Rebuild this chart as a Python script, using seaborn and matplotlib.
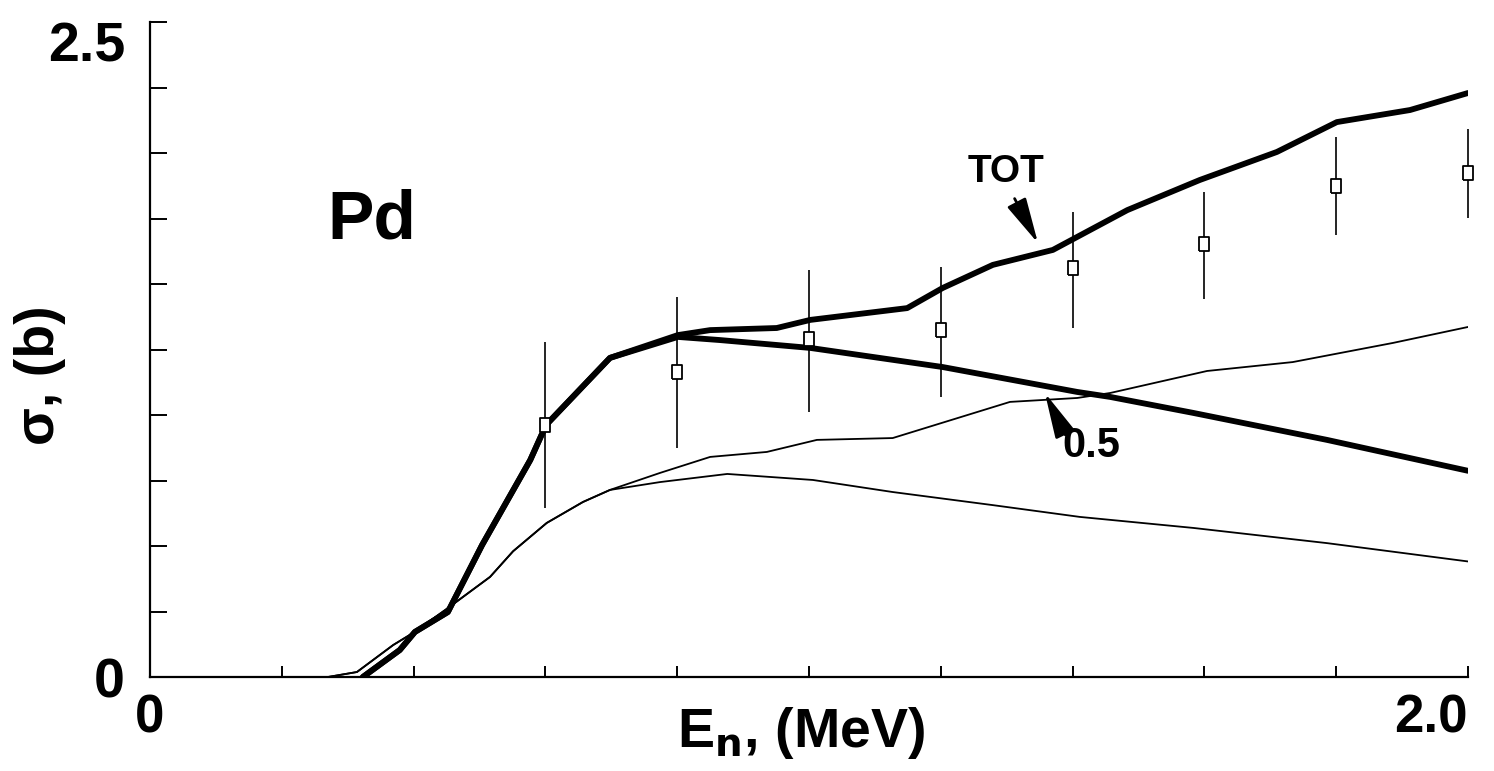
import numpy as np
import pandas as pd
import matplotlib
matplotlib.use("Agg")
import matplotlib.pyplot as plt
import seaborn as sns

# ---- data ----
tot_e = [0.323, 0.379, 0.402, 0.452, 0.504, 0.577, 0.601, 0.698, 0.801, 0.850, 0.951,
         1.002, 1.149, 1.203, 1.279, 1.370, 1.483, 1.593, 1.710, 1.801, 1.912, 2.0]
tot_s = [0.0, 0.103, 0.172, 0.248, 0.504, 0.828, 0.962, 1.218, 1.305, 1.324, 1.332,
         1.363, 1.408, 1.485, 1.573, 1.630, 1.782, 1.897, 2.004, 2.118, 2.164, 2.229]

half_e = [0.323, 0.379, 0.402, 0.452, 0.504, 0.577, 0.601, 0.698, 0.801, 0.865, 1.002,
          1.203, 1.407, 1.457, 1.583, 1.786, 2.0]
half_s = [0.0, 0.103, 0.172, 0.248, 0.504, 0.828, 0.962, 1.218, 1.298, 1.286, 1.256,
          1.183, 1.088, 1.069, 1.008, 0.905, 0.787]

thin_up_e = [0.27, 0.314, 0.369, 0.399, 0.452, 0.516, 0.551, 0.602, 0.657, 0.698, 0.774,
             0.850, 0.936, 1.012, 1.127, 1.305, 1.407, 1.457, 1.604, 1.734, 1.886, 2.0]
thin_up_s = [0.0, 0.019, 0.122, 0.168, 0.263, 0.382, 0.480, 0.588, 0.668, 0.714, 0.779,
             0.840, 0.859, 0.905, 0.912, 1.050, 1.065, 1.084, 1.168, 1.202, 1.275, 1.336]

thin_lo_e = [0.27, 0.314, 0.369, 0.399, 0.452, 0.516, 0.551, 0.602, 0.657, 0.698, 0.774,
             0.876, 1.006, 1.127, 1.279, 1.411, 1.583, 1.786, 2.0]
thin_lo_s = [0.0, 0.019, 0.122, 0.168, 0.263, 0.382, 0.480, 0.588, 0.668, 0.714, 0.744,
             0.775, 0.752, 0.706, 0.656, 0.611, 0.569, 0.511, 0.441]

exp_e = [0.6, 0.8, 1.0, 1.2, 1.4, 1.6, 1.8, 2.0]
exp_s = [0.962, 1.164, 1.290, 1.324, 1.561, 1.653, 1.874, 1.924]
exp_lo = [0.645, 0.874, 1.011, 1.069, 1.332, 1.443, 1.687, 1.752]
exp_hi = [1.279, 1.450, 1.553, 1.565, 1.775, 1.851, 2.061, 2.092]

x_ticks = [0.0, 0.2, 0.4, 0.6, 0.8, 1.0, 1.2, 1.4, 1.6, 1.8, 2.0]
x_labels = ["0", "", "", "", "", "", "", "", "", "", "2.0"]
y_ticks = [0.0, 0.25, 0.5, 0.75, 1.0, 1.25, 1.5, 1.75, 2.0, 2.25, 2.5]
y_labels = ["0", "", "", "", "", "", "", "", "", "", "2.5"]

# ---- style ----
sns.set_theme(style="ticks")
plt.rcParams["font.family"] = ["Liberation Sans", "DejaVu Sans"]
plt.rcParams["font.weight"] = "bold"
plt.rcParams["mathtext.default"] = "bf"
for k in ["text.color", "axes.labelcolor", "xtick.color", "ytick.color", "axes.edgecolor"]:
    plt.rcParams[k] = "black"

W, H = 1494, 771
fig = plt.figure(figsize=(W / 100, H / 100), dpi=100)
fig.patch.set_facecolor("white")
ax = fig.add_axes([150 / W, 1 - 677 / H, (1468 - 150) / W, (677 - 22) / H])
ax.set_facecolor("white")

thick = 4.2
thin = 1.3
sns.lineplot(x=thin_lo_e, y=thin_lo_s, ax=ax, color="black", lw=thin, sort=False, estimator=None)
sns.lineplot(x=thin_up_e, y=thin_up_s, ax=ax, color="black", lw=thin, sort=False, estimator=None)
sns.lineplot(x=half_e, y=half_s, ax=ax, color="black", lw=thick, sort=False, estimator=None)
sns.lineplot(x=tot_e, y=tot_s, ax=ax, color="black", lw=thick, sort=False, estimator=None)

ax.vlines(exp_e, exp_lo, exp_hi, color="black", lw=1.2, clip_on=False, zorder=4)
rect = [(-0.7, -1), (0.7, -1), (0.7, 1), (-0.7, 1), (-0.7, -1)]
sns.scatterplot(x=exp_e, y=exp_s, ax=ax, marker=rect, s=110, facecolor="white",
                edgecolor="black", linewidth=1.3, zorder=5, clip_on=False)

ax.set_xlim(0, 2.0)
ax.set_ylim(0, 2.5)
ax.set_xticks(x_ticks)
ax.set_xticklabels(x_labels)
ax.set_yticks(y_ticks)
ax.set_yticklabels(y_labels)
ax.tick_params(axis="x", direction="in", length=8, width=1.4, pad=12, labelsize=38)
ax.tick_params(axis="y", direction="in", length=12, width=1.4, pad=18, labelsize=40)
for lab in ax.get_yticklabels():
    lab.set_fontweight("bold")
    if lab.get_text() == "2.5":
        lab.set_verticalalignment("top")
for lab in ax.get_xticklabels():
    lab.set_fontweight("bold")
    if lab.get_text() == "2.0":
        lab.set_horizontalalignment("right")

for s in ["top", "right"]:
    ax.spines[s].set_visible(False)
for s in ["left", "bottom"]:
    ax.spines[s].set_color("black")
    ax.spines[s].set_linewidth(1.6)

ax.set_xlabel(r"E$_\mathbf{n}$, (MeV)", fontsize=40, fontweight="bold")
ax.xaxis.set_label_coords((801 - 150) / 1318, (677 - 733) / 655)
ax.xaxis.label.set_verticalalignment("center")
ax.set_ylabel("σ, (b)", fontsize=40, fontweight="bold")
ax.yaxis.set_label_coords((40 - 150) / 1318, (677 - 375) / 655)
ax.yaxis.label.set_verticalalignment("center")

ax.text(0.337, 1.744, "Pd", fontsize=50, fontweight="bold", ha="center", va="center")

arrow = dict(arrowstyle="-|>,head_length=1.4,head_width=0.32", color="black",
             lw=2.0, shrinkA=0, shrinkB=0, mutation_scale=20)
ax.text(1.299, 1.927, "TOT", fontsize=28, fontweight="bold", ha="center", va="center")
ax.annotate("", xy=(1.3475, 1.656), xytext=(1.312, 1.826), arrowprops=arrow)
ax.text(1.429, 0.883, "0.5", fontsize=30, fontweight="bold", ha="center", va="center")
ax.annotate("", xy=(1.358, 1.084), xytext=(1.389, 0.924), arrowprops=arrow)

fig.savefig("out.png", dpi=100, facecolor="white")
